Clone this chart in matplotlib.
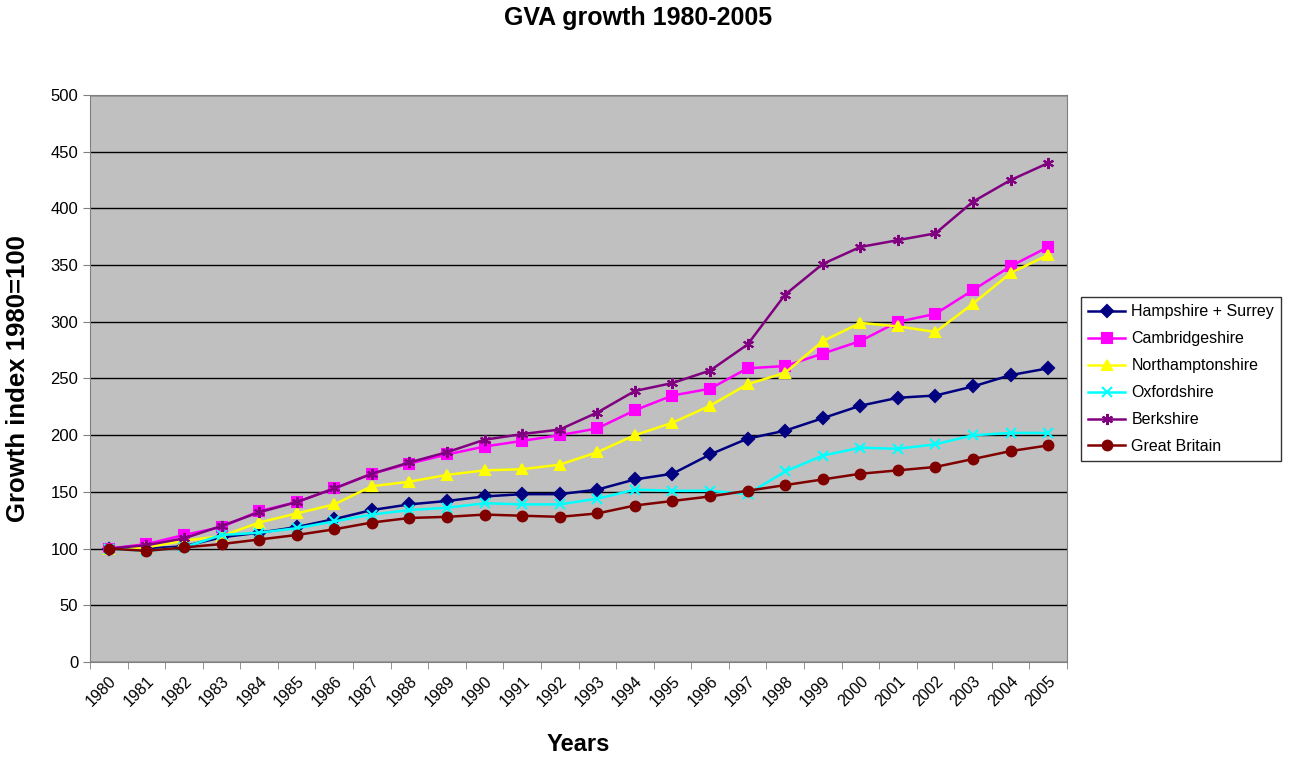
import matplotlib
matplotlib.use("Agg")
import matplotlib.pyplot as plt
from matplotlib.ticker import FixedLocator

plt.rcParams["font.family"] = ["Liberation Sans", "DejaVu Sans"]

years = [str(y) for y in range(1980, 2006)]

hampshire_surrey = [100, 100, 102, 110, 114, 119, 126, 134, 139, 142, 146, 148, 148, 152, 161, 166,
                    183, 197, 204, 215, 226, 233, 235, 243, 253, 259]
cambridgeshire = [100, 104, 112, 119, 133, 141, 153, 166, 175, 183, 190, 195, 200, 206, 222, 235,
                  241, 259, 261, 272, 283, 300, 307, 328, 349, 366]
northamptonshire = [100, 101, 107, 111, 123, 131, 139, 155, 159, 165, 169, 170, 174, 185, 200, 211,
                    226, 245, 255, 283, 299, 296, 291, 316, 343, 359]
oxfordshire = [100, 98, 101, 112, 114, 118, 124, 130, 134, 136, 140, 139, 139, 144, 152, 151,
               151, 148, 168, 182, 189, 188, 192, 200, 202, 202]
berkshire = [100, 103, 109, 120, 132, 141, 153, 166, 176, 185, 196, 201, 205, 220, 239, 246,
             257, 280, 324, 351, 366, 372, 378, 406, 425, 440]
great_britain = [100, 98, 101, 104, 108, 112, 117, 123, 127, 128, 130, 129, 128, 131, 138, 142,
                 146, 151, 156, 161, 166, 169, 172, 179, 186, 191]

series = [
    ("Hampshire + Surrey", hampshire_surrey, "#000080", "D", 6),
    ("Cambridgeshire", cambridgeshire, "#FF00FF", "s", 7),
    ("Northamptonshire", northamptonshire, "#FFFF00", "^", 7),
    ("Oxfordshire", oxfordshire, "#00FFFF", "x", 7),
    ("Berkshire", berkshire, "#800080", (6, 2, 0), 8),
    ("Great Britain", great_britain, "#800000", "o", 7),
]

fig = plt.figure(figsize=(12.94, 7.58), dpi=100)
ax = fig.add_axes([90 / 1294, 1 - 662 / 758, (1067 - 90) / 1294, (662 - 95) / 758])
ax.set_facecolor("#C0C0C0")

x = list(range(len(years)))
for name, vals, col, mk, ms in series:
    ax.plot(x, vals, color=col, marker=mk, markersize=ms, linewidth=1.8,
            markeredgewidth=1.5, label=name)

ax.set_xlim(-0.5, len(years) - 0.5)
ax.set_ylim(0, 500)
ax.set_yticks(range(0, 501, 50))
ax.yaxis.grid(True, color="black", linewidth=1)
ax.set_axisbelow(True)

ax.set_xticks(x)
ax.set_xticklabels(years, rotation=45, ha="right", rotation_mode="anchor", fontsize=11.5)
ax.tick_params(axis="x", which="major", length=0, pad=8)
ax.xaxis.set_minor_locator(FixedLocator([i - 0.5 for i in range(len(years) + 1)]))
ax.tick_params(axis="x", which="minor", length=5, color="#808080")
ax.tick_params(axis="y", labelsize=12, length=5, color="#808080")

for s in ax.spines.values():
    s.set_color("#808080")

ax.set_xlabel("Years", fontsize=17, fontweight="bold")
ax.xaxis.set_label_coords(0.5, (662 - 733) / 567)
ax.set_ylabel("Growth index 1980=100", fontsize=18.5, fontweight="bold")
ax.yaxis.set_label_coords((30 - 90) / 977, 0.5)
fig.text(638 / 1294, 1 - 18 / 758, "GVA growth 1980-2005", fontsize=18, fontweight="bold",
         ha="center", va="center")

leg = fig.legend(loc="upper left", bbox_to_anchor=(1081 / 1294, 1 - 297 / 758),
                 fontsize=11.5, frameon=True, fancybox=False, edgecolor="black",
                 handlelength=2.3, borderpad=0.45, labelspacing=0.75, handletextpad=0.4,
                 borderaxespad=0)
leg.get_frame().set_linewidth(1)

fig.savefig("out.png", dpi=100)
